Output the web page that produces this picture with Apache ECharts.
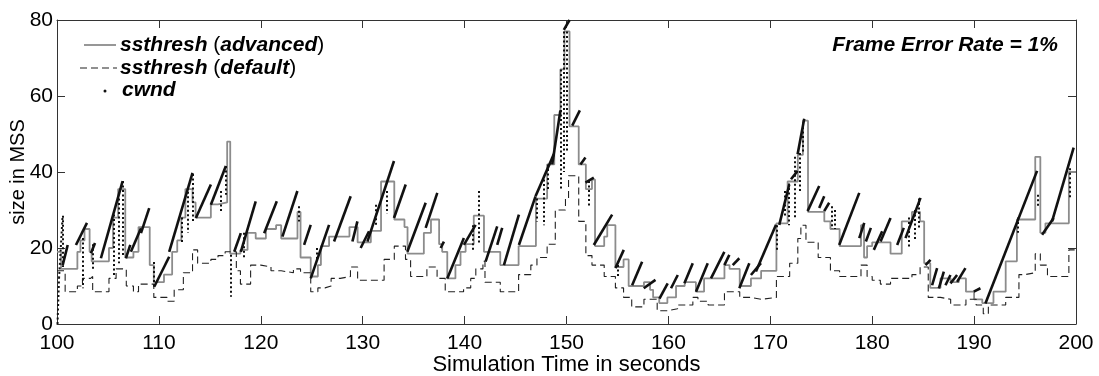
<!DOCTYPE html>
<html><head><meta charset="utf-8">
<script src="https://cdn.jsdelivr.net/npm/echarts@6/dist/echarts.min.js"></script>
<style>html,body{margin:0;padding:0;background:#fff}#c{width:1099px;height:376px}</style>
</head><body><div id="c"></div>
<script>
// ---- data (time in s, size in MSS) ----
const xTicks = [100,110,120,130,140,150,160,170,180,190,200];
const yTicks = [0,20,40,60,80];

// ssthresh (advanced): [time, size] – value holds until next time
const advancedSteps = [[100,19],[100.4,14.5],[102,19],[102.3,22],[102.7,25],[103.2,19],[103.4,16.5],[105.1,20],[105.5,28],[106.0,35.5],[106.7,17.5],[107.5,19],[108.0,25.5],[109.1,15.5],[109.5,11],[110.5,13],[111.3,19],[111.8,22],[112.2,28],[112.6,35.5],[113.3,32],[113.6,28],[115.1,31.5],[115.8,32],[116.7,48],[117.0,18.5],[118,19.5],[118.7,24],[119.5,22.5],[120.5,25],[121.5,26],[122.0,22.5],[123.6,29.5],[123.9,17.5],[124.9,12.5],[125.6,15.5],[125.9,20.5],[126.7,23],[128.7,25.5],[129.5,21.5],[130.8,24.5],[131.8,37.5],[133.1,27.5],[134.1,25.5],[134.4,18.5],[136.0,24],[136.7,27.5],[137.5,21],[137.8,19],[138.3,12],[139.1,15.5],[139.6,19],[140.1,21],[140.9,28.5],[141.9,19],[143.5,15.5],[145.3,20.5],[147.0,33],[148.1,42],[148.8,55],[149.4,67],[149.8,77],[150.3,52],[151.2,42],[151.9,35.5],[152.5,38],[152.8,20.5],[153.7,23],[154.0,26],[154.8,15],[155.6,17],[156.1,10],[157.6,11],[158.2,9],[158.5,7],[159.1,5.5],[159.9,7],[160.75,10],[161.6,11],[162.7,8.5],[163.5,12],[165.5,15.5],[166.0,14.5],[167.0,10],[168.1,12],[169.1,14],[170.6,26.5],[171.7,37.5],[172.7,44.5],[173.2,53.5],[173.7,29.5],[175.3,27],[175.9,25],[176.8,20.5],[178.9,26],[179.2,17.5],[179.5,20.5],[180.0,21.5],[181.8,18.5],[182.9,27],[183.9,29.5],[184.7,27],[185.1,16],[185.7,9.5],[186.7,12],[187.7,11],[188.5,12],[189.2,8.5],[190.0,6.5],[190.8,5.5],[191.9,8.5],[193.1,16.5],[194.2,27.5],[196.0,44],[196.5,24],[197.0,26.5],[199.3,40],[200,40]];

// ssthresh (default): [time, size]
const defaultSteps = [[100,14],[100.8,8.5],[102,10],[102.5,12],[103.3,12.5],[103.5,8.5],[105.1,12],[105.8,14.5],[106.8,10],[107.5,8.5],[108,10.5],[109.5,7],[110.8,6],[111.5,9],[112.4,13.5],[113.3,19.5],[113.8,16],[115.1,17],[115.8,18],[116.5,19],[117.6,14],[118.0,10.5],[119.0,15.5],[120,15],[121,14],[122,13.5],[123.2,14.5],[123.9,13.5],[124.9,8.5],[125.6,9.5],[126.3,10],[126.9,12],[127.8,12.5],[128.8,15],[129.5,11.5],[132.1,17],[133.1,20.5],[134.2,17],[134.7,12.5],[136.3,15],[137.3,12],[138.1,8.5],[139.9,9.5],[140.6,12],[141.1,14.5],[141.8,16.5],[142.0,11],[143.5,8.5],[145.3,13],[146.5,15.5],[147.1,17.5],[148.1,21],[148.9,30],[149.9,33],[150.2,39],[151.2,27],[151.9,18],[152.5,15.5],[153.7,12.5],[154.8,9.5],[155.6,7],[156.4,4.5],[157.6,6.5],[158.9,3.5],[159.9,4],[160.9,5],[162.4,7],[162.9,6],[163.9,5],[165.5,8.5],[167.0,7],[168.1,6.5],[169.1,7],[170.6,12.5],[171.9,16],[172.7,22.5],[173.0,26],[173.5,21.5],[174.7,17.5],[175.9,14],[176.8,12.5],[178.9,15.5],[179.5,12.5],[180.0,11.5],[180.8,10.5],[181.8,12],[183.9,13],[184.7,15],[185.5,7],[186.7,6.5],[187.7,5],[189.2,6.5],[190.2,5],[190.9,2.7],[191.4,5],[193.1,7],[194.4,13],[195.0,13.5],[196.0,18.5],[196.5,15.5],[197.2,12.5],[199.3,19.5],[200,19.5]];

// cwnd congestion-avoidance ramps: [t0, v0, t1, v1]
const cwndRamps = [[100.56,15.5,101.05,20.8],[101.86,20.8,102.94,26.6],[103.33,18.6,103.73,21.3],[104.31,17.3,106.44,37.6],[106.76,17.3,107.19,20.8],[107.25,19,108.24,25.2],[108.24,23.9,109.05,30.5],[109.54,9.8,111.01,17.7],[111.01,19,113.3,39.8],[113.63,27.9,115.1,36.7],[115.1,31.4,116.57,41.6],[117.39,19,118.04,23.9],[118.04,19,119.5,32.3],
[120.33,23.9,121.57,32.3],[122.12,23,123.59,35],[124.25,20.8,124.9,26.1],[124.9,12,126.7,26.1],[127.19,21.7,128.82,33.6],[128.99,21.7,129.48,27],[129.8,20,130.62,24.4],[130.46,21.7,133.07,42.9],[133.07,27.9,134.22,36.7],[134.38,19,136.18,31.9],[136.18,25.3,137.32,34.5],[137.65,20,137.97,21.7],[138.3,12,139.93,22.6],
[139.93,20.8,141.08,26.1],[142.06,16.4,143.2,25.7],[143.2,20.8,143.69,25.3],[143.86,15.5,145.33,28.8],[145.33,20.8,146.96,33.6],[146.96,33.6,148.76,44.7],[148.6,42,149.4,56.2],[149.74,77.4,150.3,80],[150.56,52.2,151.31,56.2],[151.37,42,151.86,43.8],[151.86,37.2,152.68,38.5],[152.68,20.8,154.48,28.8],[154.8,14.7,155.62,19.5],[156.44,10.2,157.42,16.4],[157.58,9.4,158.73,11.6],
[159.12,6.7,159.93,10.7],[160.26,9.4,160.92,12.9],[161.57,10.7,162.39,16],[162.71,8.5,163.86,16],[164.18,12,165.49,19],[165.49,15.5,165.98,18.2],[166.31,15.5,166.96,17.3],[166.96,9.4,167.94,16],[168.1,12.9,169.08,16],[168.59,13.8,170.56,26.1],[170.88,26.1,171.86,36.7],[172.03,38.1,172.68,40.3],[172.68,44.7,173.33,54],[173.66,29.7,174.8,36.3],[174.8,30.5,175.29,33.6],[175.29,29.7,175.78,31.9],[176.76,20.8,178.73,34.5],[178.73,22.6,179.22,26.6],[179.38,21.7,179.87,25.3],
[180.16,19.5,180.98,24.4],[180.82,21.7,181.8,27.9],[182.45,20.8,183.1,25.3],[183.27,22.6,184.74,33.2],[185.23,15.5,185.72,16.9],[185.88,10.2,186.37,14.7],[186.54,9.4,187.03,13.8],[187.19,10.2,187.68,12.9],[187.68,10.7,188.33,12.9],[188.33,11.1,189.15,14.7],[189.97,8.5,190.62,9.4],[191.11,5.4,196.18,40.3],[196.67,23.5,197.81,27.9],[197.65,27,199.77,46.4]];

// cwnd dotted columns (slow start / recovery): [t0, v0, t1, v1]
const cwndColumns = [[100.05,0,100.2,12],[100.2,12,100.55,28.5],[100.55,28.5,100.55,15],[102.5,22.6,102.5,9.4],[103.5,21,103.5,14],[105.6,28.8,105.6,12.9],[106.1,33,106.1,16],[106.45,37.6,106.45,18],[109.5,16.3,109.5,9.4],[112.2,28,112.2,21],[112.8,36,112.8,24],[113.3,39.5,113.3,27],[116.1,35,116.1,29.7],[116.6,41.6,116.6,34],[117.06,18.2,117.06,7.2],[118.3,24,118.3,17],[123.76,31,123.76,27],[125.5,20,125.5,17],[131.3,31.4,131.3,26.1],[132.4,35,132.4,29],[140.8,26,140.8,19],[141.4,35,141.4,20.8],[147.1,33,147.1,27],[147.8,38,147.8,26],[148.2,42,148.2,35],[149.41,67,149.41,35],[149.7,77,149.7,40],[150.0,77,150.0,45],[152.2,37.6,152.2,30.5],[155.0,15.5,155.0,12.5],[170.6,26,170.6,19],[171.4,35,171.4,28],[171.8,37,171.8,26],[172.4,44,172.4,28],[172.9,45,172.9,35],[173.2,53,173.2,45],[176.0,31,176.0,25],[176.3,30,176.3,25],[183.6,28,183.6,20],[184.2,30,184.2,22],[184.6,33,184.6,25],[194.3,28,194.3,24],[196.2,34,196.2,31],[199.4,41,199.4,33]];

// ---- chart ----
const FF = "'Liberation Sans', Arial, Helvetica, sans-serif";
const chart = echarts.init(document.getElementById('c'), null, {renderer: 'canvas'});
const axisCol = '#333';
const toSeg = a => a.map(s => ({coords: [[s[0], s[1]], [s[2], s[3]]]}));

function xAx(pos, show) {
  return {
    type: 'value', min: 100, max: 200, interval: 10, position: pos,
    axisLine: {show: true, onZero: false, lineStyle: {color: axisCol, width: 1}},
    axisTick: {show: true, inside: true, length: 8, lineStyle: {color: axisCol}},
    axisLabel: {show: show, fontSize: 21, color: '#000', fontFamily: FF, margin: 9},
    splitLine: {show: false},
    name: show ? 'Simulation Time in seconds' : '', nameLocation: 'middle', nameGap: 30,
    nameMoveOverlap: false,
    nameTextStyle: {fontSize: 22, color: '#000', fontFamily: FF}
  };
}
function yAx(pos, show) {
  return {
    type: 'value', min: 0, max: 80, interval: 20, position: pos,
    axisLine: {show: true, onZero: false, lineStyle: {color: axisCol, width: 1}},
    axisTick: {show: true, inside: true, length: 8, lineStyle: {color: axisCol}},
    axisLabel: {show: show, fontSize: 21, color: '#000', fontFamily: FF, margin: 4},
    splitLine: {show: false},
    name: show ? 'size in MSS' : '', nameLocation: 'middle', nameGap: 29, nameRotate: 90,
    nameMoveOverlap: false,
    nameTextStyle: {fontSize: 20, color: '#000', fontFamily: FF}
  };
}

const rich = {
  i: {fontStyle: 'italic', fontWeight: 'bold', fontSize: 21, fontFamily: FF, fill: '#000'},
  n: {fontSize: 21, fontFamily: FF, fill: '#000'}
};

const option = {
  animation: false,
  backgroundColor: '#fff',
  grid: {left: 57, right: 23, top: 20, bottom: 52, containLabel: false, outerBoundsMode: 'none'},
  xAxis: [xAx('bottom', true), xAx('top', false)],
  yAxis: [yAx('left', true), yAx('right', false)],
  series: [
    {name: 'ssthresh (advanced)', type: 'line', step: 'end', xAxisIndex: 0, yAxisIndex: 0,
     data: advancedSteps, symbol: 'none', lineStyle: {color: '#8c8c8c', width: 1.8}, z: 2},
    {name: 'ssthresh (default)', type: 'line', step: 'end', xAxisIndex: 0, yAxisIndex: 0,
     data: defaultSteps, symbol: 'none', lineStyle: {color: '#222', width: 1.1, type: [7, 4]}, z: 3},
    {name: 'cwnd', type: 'lines', coordinateSystem: 'cartesian2d', xAxisIndex: 0, yAxisIndex: 0,
     data: toSeg(cwndRamps), lineStyle: {color: '#111', width: 2.6, opacity: 1}, z: 4},
    {name: 'cwnd columns', type: 'lines', coordinateSystem: 'cartesian2d', xAxisIndex: 0, yAxisIndex: 0,
     data: toSeg(cwndColumns), lineStyle: {color: '#111', width: 2, opacity: 1, type: [2, 2.5]}, z: 4}
  ],
  graphic: [
    {type: 'line', shape: {x1: 84, y1: 45, x2: 116, y2: 45}, style: {stroke: '#8c8c8c', lineWidth: 1.8}},
    {type: 'line', shape: {x1: 80, y1: 68, x2: 117, y2: 68}, style: {stroke: '#222', lineWidth: 1.1, lineDash: [7, 4]}},
    {type: 'circle', shape: {cx: 105, cy: 91, r: 1.5}, style: {fill: '#111'}},
    {type: 'text', x: 120, y: 45, style: {text: '{i|ssthresh} {n|(}{i|advanced}{n|)}', rich: rich, font: "21px " + FF, verticalAlign: 'middle', align: 'left'}},
    {type: 'text', x: 120, y: 68, style: {text: '{i|ssthresh} {n|(}{i|default}{n|)}', rich: rich, font: "21px " + FF, verticalAlign: 'middle', align: 'left'}},
    {type: 'text', x: 122, y: 90, style: {text: '{i|cwnd}', rich: rich, font: "21px " + FF, verticalAlign: 'middle', align: 'left'}},
    {type: 'text', x: 1058, y: 45, style: {text: 'Frame Error Rate = 1%', fill: '#000', font: "italic bold 21px " + FF, verticalAlign: 'middle', align: 'right'}}
  ]
};
chart.setOption(option);
</script></body></html>
